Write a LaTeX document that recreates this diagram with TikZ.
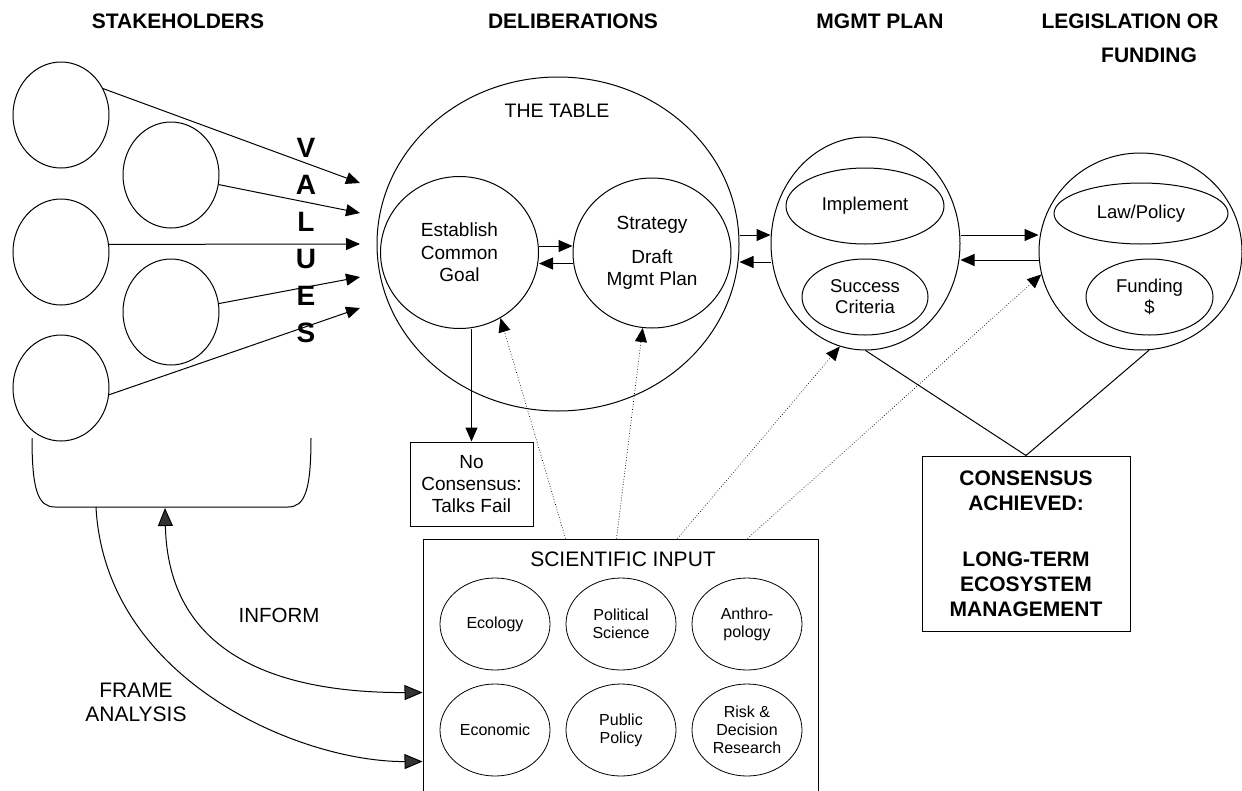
\documentclass[tikz,border=0pt]{standalone}
\usepackage{fontspec}
\setmainfont{Liberation Sans}
\usetikzlibrary{arrows.meta,positioning,calc,shapes.geometric}

\begin{document}
\begin{tikzpicture}[
  x=1pt, y=-1pt,
  actor/.style={draw, ellipse, line width=1pt, minimum width=96pt,
                minimum height=106pt, inner sep=0pt},
  ring/.style={draw, ellipse, line width=1pt, inner sep=0pt},
  stage/.style={draw, ellipse, line width=1pt, inner sep=0pt, align=center,
                font=\fontsize{19}{22.5}\selectfont},
  sub/.style={draw, ellipse, line width=1pt, inner sep=0pt, align=center,
              font=\fontsize{18.5}{21}\selectfont},
  field/.style={draw, ellipse, line width=0.8pt, inner sep=0pt, minimum width=110pt,
                minimum height=92pt, align=center, font=\fontsize{16}{18}\selectfont},
  hdr/.style={font=\fontsize{21}{25}\selectfont\bfseries},
  lbl/.style={font=\fontsize{20.5}{24}\selectfont, align=center},
  arr/.style={-{Triangle[length=14pt,width=12pt]}, line width=1pt},
  sciarr/.style={-{Triangle[length=14pt,width=12pt]}, dotted, line width=0.7pt},
  loop/.style={line width=1pt}
]
\useasboundingbox (0,0) rectangle (1242,790);

\node[hdr] (hstake) at (178,21) {STAKEHOLDERS};
\node[hdr] (hdelib) at (573,21) {DELIBERATIONS};
\node[hdr] (hmgmt) at (880,21) {MGMT PLAN};
\node[hdr] (hlegis) at (1130,21) {LEGISLATION OR};
\node[hdr] (hfund) at (1149,55) {FUNDING};

\node[actor] (sh1) at (61,115) {};
\node[actor] (sh2) at (171,175) {};
\node[actor] (sh3) at (61,252) {};
\node[actor] (sh4) at (171,312) {};
\node[actor] (sh5) at (61,388) {};

\coordinate (v1) at (360,183);
\coordinate (v2) at (360,213);
\coordinate (v3) at (360,244);
\coordinate (v4) at (360,277);
\coordinate (v5) at (360,308);
\draw[arr] (sh1.32) -- (v1);
\draw[arr] (sh2) -- (v2);
\draw[arr] (sh3.9) -- (v3);
\draw[arr] (sh4.10) -- (v4);
\draw[arr] (sh5.-8) -- (v5);
\node[font=\fontsize{28}{37}\selectfont\bfseries, align=center] (values) at (306,240)
  {V\\A\\L\\U\\E\\S};

\draw[loop] (32,438) .. controls (32,490) and (38,507) .. (55,507) -- (288,507)
  .. controls (305,507) and (311,490) .. (311,438);
\coordinate (brkA) at (96,507);
\coordinate (brkB) at (165,508);

\node[ring, minimum width=362pt, minimum height=334pt] (table) at (558,244) {};
\node[font=\fontsize{19.5}{23}\selectfont] (tabletitle) at (557,111) {THE TABLE};
\node[stage, minimum width=158pt, minimum height=152pt] (est) at (459.5,252.5)
  {Establish\\Common\\Goal};
\node[stage, minimum width=158pt, minimum height=150pt] (strat) at (652,253)
  {Strategy\\[11pt]Draft\\Mgmt Plan};

\node[ring, minimum width=189pt, minimum height=213pt] (mgmt) at (865.5,243.5) {};
\node[sub, minimum width=158pt, minimum height=76pt] (impl) at (865,206) {Implement};
\node[sub, minimum width=126pt, minimum height=76pt] (succ) at (865,297) {Success\\Criteria};

\node[ring, minimum width=203pt, minimum height=197pt] (legis) at (1140.5,251.5) {};
\node[sub, minimum width=174pt, minimum height=61pt] (law) at (1141,213.5) {Law/Policy};
\node[sub, minimum width=127pt, minimum height=76pt] (fund) at (1149.5,297) {Funding\\\$};

\draw[arr] ([yshift=6.5pt]est.east) -- ([yshift=6.5pt]est.east -| strat.west);
\draw[arr] ([yshift=-10.5pt]strat.west) -- ([yshift=-10.5pt]strat.west -| est.east);
\draw[arr] ([yshift=9pt]table.east) -- ([yshift=9pt]table.east -| mgmt.west);
\draw[arr] ([yshift=-18.5pt]mgmt.west) -- ([yshift=-18.5pt]mgmt.west -| table.east);
\draw[arr] ([yshift=8.5pt]mgmt.east) -- ([yshift=8.5pt]mgmt.east -| legis.west);
\draw[arr] ([yshift=-8.5pt]legis.west) -- ([yshift=-8.5pt]legis.west -| mgmt.east);

\node[draw, line width=1pt, minimum width=123pt, minimum height=84pt, align=center,
      font=\fontsize{19}{22}\selectfont] (nocons) at (471.5,484)
  {No\\Consensus:\\Talks Fail};
\draw[arr] (nocons.north |- est.south) -- (nocons.north);

\node[draw, line width=1pt, minimum width=395pt, minimum height=261pt] (sci) at (620.5,669.5) {};
\node[font=\fontsize{21}{25}\selectfont] (scititle) at (623,559) {SCIENTIFIC INPUT};
\node[field] (ecol) at (495,624) {Ecology};
\node[field] (polsci) at (621,624) {Political\\Science};
\node[field] (anthro) at (747,624) {Anthro-\\pology};
\node[field] (econ) at (495,730) {Economic};
\node[field] (pubpol) at (621,730) {Public\\Policy};
\node[field] (risk) at (747,730) {Risk \&\\Decision\\Research};

\draw[sciarr] ($(sci.north west)+(143,0)$) -- (est.-58);
\draw[sciarr] ($(sci.north west)+(194,0)$) -- (strat);
\draw[sciarr] ($(sci.north west)+(255,0)$) -- (mgmt.-104);
\draw[sciarr] ($(sci.north west)+(325,0)$) -- (legis.193);

\node[draw, line width=1pt, minimum width=208pt, minimum height=175pt, align=center,
      font=\fontsize{21}{25}\selectfont\bfseries] (cons) at (1026,543.5)
  {CONSENSUS\\ACHIEVED:\\[31pt]LONG-TERM\\ECOSYSTEM\\MANAGEMENT};
\draw[loop] (mgmt.south) -- (cons.north) -- (legis.-85);

\draw[loop, {Triangle[length=18pt,width=15pt,fill=black!80]}-{Triangle[length=18pt,width=15pt,fill=black!80]}]
  (brkB) .. controls (168,650) and (270,693) .. ($(sci.north west)+(0,154)$);
\draw[loop, -{Triangle[length=18pt,width=15pt,fill=black!80]}]
  (brkA) .. controls (105,680) and (300,762) .. ($(sci.north west)+(0,223)$);
\node[lbl] (inform) at (279,615) {INFORM};
\node[lbl, font=\fontsize{21}{24}\selectfont] (frame) at (136,702) {FRAME\\ANALYSIS};
\end{tikzpicture}
\end{document}
